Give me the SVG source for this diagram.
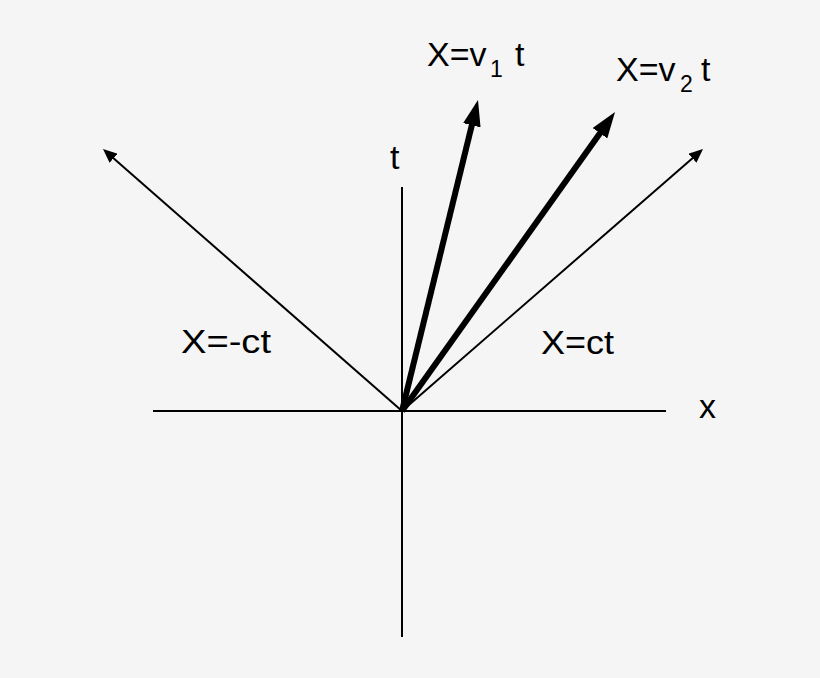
<svg xmlns="http://www.w3.org/2000/svg" width="820" height="678" viewBox="0 0 820 678">
<defs>
<style>
.ax{stroke:#000;stroke-width:2;fill:none}
.thin{stroke:#000;stroke-width:2;fill:none;marker-end:url(#hs)}
.thick{stroke:#000;stroke-width:6;fill:none;marker-end:url(#hb)}
text{font-family:"Liberation Sans",Arial,sans-serif;fill:#000}
.lbl{font-size:34px}
.sub{font-size:23px}
</style>
<marker id="hs" markerUnits="userSpaceOnUse" markerWidth="14" markerHeight="12" refX="8" refY="6" orient="auto"><path d="M0,0 L14,6 L0,12 z" fill="#000"/></marker>
<marker id="hb" markerUnits="userSpaceOnUse" markerWidth="26" markerHeight="18" refX="8" refY="9" orient="auto"><path d="M0,0 L26,9 L0,18 z" fill="#000"/></marker>
</defs>
<rect width="820" height="678" fill="#f5f5f5"/>
<g id="connectors">
<line class="ax" x1="153" y1="411" x2="666" y2="411"/>
<line class="ax" x1="402" y1="187" x2="402" y2="637"/>
<line class="thin" x1="402" y1="411" x2="107.5" y2="153"/>
<line class="thin" x1="402" y1="411" x2="698.5" y2="153"/>
<line class="thick" x1="402" y1="411" x2="473.7" y2="117.5"/>
<line class="thick" x1="402" y1="411" x2="604.6" y2="126.7"/>
</g>
<g id="label-t"><text class="lbl" x="390" y="169">t</text></g>
<g id="label-x"><text class="lbl" x="699" y="418">x</text></g>
<g id="label-negct"><text class="lbl" x="181" y="353" textLength="90" lengthAdjust="spacingAndGlyphs">X=-ct</text></g>
<g id="label-ct"><text class="lbl" x="541" y="354" textLength="73" lengthAdjust="spacingAndGlyphs">X=ct</text></g>
<g id="label-v1"><text class="lbl" x="427" y="66">X=v</text><text class="sub" x="490" y="77">1</text><text class="lbl" x="515" y="66">t</text></g>
<g id="label-v2"><text class="lbl" x="616" y="81">X=v</text><text class="sub" x="680" y="92">2</text><text class="lbl" x="701" y="81">t</text></g>
</svg>
